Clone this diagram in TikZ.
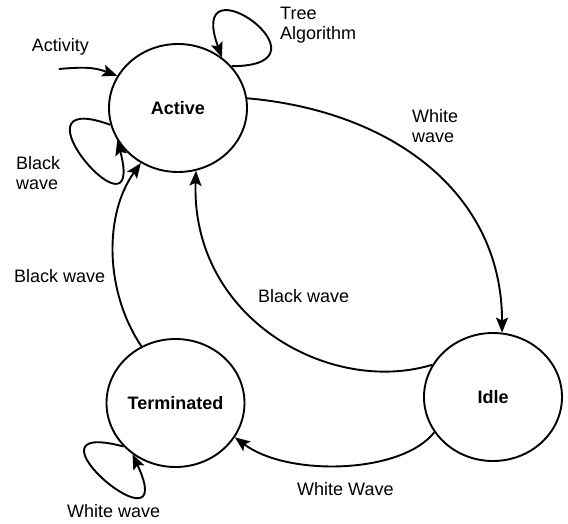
\documentclass[tikz,border=0pt]{standalone}
\usepackage{fontspec}
\setmainfont{Liberation Sans}
\usetikzlibrary{shapes.geometric,arrows.meta}
\begin{document}
\begin{tikzpicture}[x=1pt,y=-1pt,
  state/.style={ellipse,draw,line width=1.9pt,minimum width=138pt,minimum height=128pt,inner sep=0pt,font=\fontsize{18}{20}\selectfont\bfseries},
  lbl/.style={inner sep=0pt,font=\fontsize{18}{19.5}\selectfont,align=left},
  edge/.style={line width=1.9pt,-{Stealth[length=15pt,width=12pt,inset=3pt]}}]
\useasboundingbox (0,0) rectangle (568,524);
\node[state] (A) at (178,108) {Active};
\node[state] (T) at (175.5,403) {Terminated};
\node[state] (I) at (493,397) {Idle};
\coordinate (act) at (59,69);
\draw[edge] (act) .. controls +(5:25pt) and +(160:25pt) .. (A.152);
\draw[edge] (A.38) .. controls +(0:110pt) and +(110:110pt) .. (A.49);
\draw[edge] (A.194) .. controls +(160:115pt) and +(285:115pt) .. (A.208);
\draw[edge] (A.8) .. controls +(-5:145pt) and +(90:140pt) .. (I.82);
\draw[edge] (I.152) .. controls +(197:107pt) and +(268:148pt) .. (A.286);
\draw[edge] (T.121) .. controls +(124:66pt) and +(234:63pt) .. (A.236);
\draw[edge] (I.211) .. controls +(232:53pt) and +(-37:66pt) .. (T.330);
\draw[edge] (T.220) .. controls +(165:118pt) and +(295:118pt) .. (T.230);
\node[lbl,anchor=base west] (lact) at (31.7,52) {Activity};
\node[lbl,anchor=north west] (ltree) at (280,7) {Tree\\Algorithm};
\node[lbl,anchor=north west] (lbl1) at (16,156.5) {Black\\wave};
\node[lbl,anchor=north west] (lww1) at (412,109.5) {White\\wave};
\node[lbl,anchor=base west] (lbl2) at (14,282) {Black wave};
\node[lbl,anchor=base west] (lbl3) at (258,302) {Black wave};
\node[lbl,anchor=base west] (lww2) at (297,495) {White Wave};
\node[lbl,anchor=base west] (lww3) at (67,517) {White wave};
\end{tikzpicture}
\end{document}
